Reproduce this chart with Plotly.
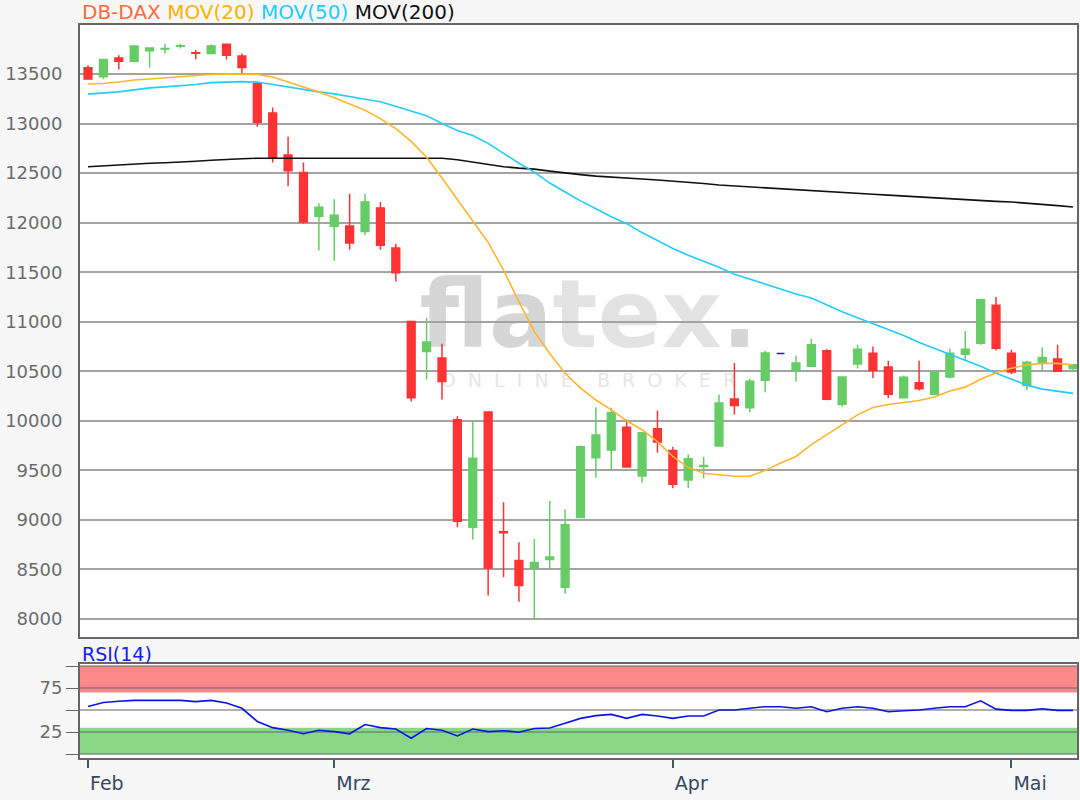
import pandas as pd
import plotly.graph_objects as go

# ---------------- data ----------------
dates = pd.bdate_range("2020-02-07", "2020-05-07").strftime("%Y-%m-%d").tolist()

open_ = [13563, 13473, 13663, 13630, 13735, 13752, 13780, 13716, 13707, 13800,
         13683, 13407, 13107, 12683, 12507, 12065, 11965, 11966, 11912, 12148,
         11744, 11003, 10700, 10633, 10010, 8926, 10088, 8880, 8589, 8515,
         8600, 8319, 9023, 9628, 9705, 9936, 9443, 9919, 9701, 9403,
         9540, 9745, 10221, 10131, 10409, 10680, 10507, 10550, 10707, 10167,
         10573, 10683, 10543, 10233, 10383, 10267, 10443, 10673, 10783, 11167,
         10683, 10357, 10583, 10623, 10527]
high = [13590, 13650, 13690, 13785, 13765, 13807, 13807, 13740, 13800, 13802,
        13707, 13410, 13163, 12867, 12607, 12195, 12235, 12293, 12293, 12209,
        11788, 11013, 11040, 10778, 10047, 10003, 10090, 9178, 8774, 8806,
        9191, 9107, 9752, 10138, 10131, 10013, 9880, 10104, 9738, 9661,
        9634, 10265, 10584, 10423, 10708, 10680, 10660, 10827, 10723, 10445,
        10767, 10750, 10607, 10457, 10607, 10492, 10727, 10907, 11223, 11250,
        10717, 10607, 10743, 10767, 10567]
low = [13445, 13447, 13547, 13628, 13567, 13707, 13757, 13647, 13705, 13647,
       13507, 12967, 12607, 12367, 11990, 11720, 11615, 11727, 11872, 11727,
       11407, 10195, 10418, 10215, 8926, 8801, 8236, 8421, 8175, 8000,
       8503, 8258, 9023, 9426, 9500, 9527, 9376, 9678, 9319, 9319,
       9420, 9745, 10064, 10087, 10289, 10680, 10393, 10550, 10207, 10143,
       10527, 10433, 10227, 10233, 10307, 10267, 10427, 10610, 10767, 10710,
       10473, 10310, 10507, 10493, 10507]
close = [13450, 13647, 13630, 13783, 13763, 13758, 13785, 13710, 13783, 13690,
         13567, 13013, 12657, 12523, 12007, 12155, 12075, 11795, 12209, 11771,
         11495, 10232, 10795, 10397, 8986, 9623, 8515, 8870, 8337, 8570,
         8625, 8950, 9738, 9856, 10081, 9534, 9879, 9785, 9359, 9617,
         9548, 10181, 10154, 10399, 10685, 10680, 10583, 10767, 10217, 10443,
         10723, 10507, 10267, 10440, 10323, 10490, 10683, 10723, 11223, 10733,
         10493, 10590, 10640, 10500, 10567]

mov20 = [13400, 13405, 13420, 13440, 13450, 13463, 13473, 13483, 13495, 13500,
         13500, 13497, 13470, 13420, 13370, 13320, 13260, 13200, 13135, 13050,
         12950, 12820, 12660, 12450, 12230, 12010, 11800, 11520, 11200, 10900,
         10680, 10480, 10330, 10210, 10110, 10000, 9910, 9790, 9640, 9530,
         9470, 9455, 9440, 9440, 9500, 9575, 9640, 9760, 9860, 9960,
         10060, 10135, 10165, 10185, 10205, 10240, 10300, 10340, 10420, 10485,
         10530, 10565, 10580, 10580, 10565]
mov50 = [13297, 13305, 13320, 13340, 13360, 13370, 13380, 13395, 13413, 13420,
         13423, 13420, 13395, 13365, 13345, 13320, 13300, 13270, 13245, 13220,
         13175, 13130, 13080, 13000, 12930, 12880, 12800, 12700, 12600, 12510,
         12400, 12310, 12220, 12140, 12060, 11990, 11900, 11820, 11740, 11670,
         11610, 11550, 11480, 11430, 11380, 11330, 11280, 11240, 11170, 11100,
         11040, 10980, 10920, 10860, 10790, 10730, 10670, 10610, 10550, 10480,
         10420, 10360, 10320, 10295, 10277]
mov200 = [12565, 12575, 12585, 12595, 12600, 12605, 12610, 12620, 12630, 12640,
          12645, 12650, 12650, 12650, 12650, 12650, 12650, 12650, 12650, 12650,
          12650, 12650, 12650, 12650, 12635, 12610, 12590, 12565, 12550, 12540,
          12520, 12500, 12485, 12470, 12458, 12448, 12440, 12430, 12420, 12410,
          12395, 12380, 12370, 12360, 12350, 12340, 12332, 12322, 12312, 12302,
          12295, 12287, 12278, 12268, 12258, 12248, 12238, 12228, 12222, 12215,
          12208, 12198, 12185, 12172, 12158]
rsi = [54, 58.5, 60, 61, 61, 61, 61, 59.5, 61, 58,
       52, 37, 30, 27, 23, 27, 25.5, 23, 33.5, 30,
       28.5, 18, 29, 27, 20.5, 28.5, 25.5, 26.5, 24.7, 29,
       29.5, 35, 40.5, 43.6, 45, 40.5, 45, 43.2, 40.5, 43.2,
       43.2, 50, 50, 52, 53.8, 53.8, 52, 53.8, 48, 52,
       53.8, 52, 48, 49.2, 50, 52, 53.8, 53.8, 60.5, 51,
       49.6, 49.6, 51.5, 49.6, 49.6]

month_ticks = ["2020-02-07", "2020-03-02", "2020-04-01", "2020-05-01"]
month_labels = ["Feb", "Mrz", "Apr", "Mai"]
price_ticks = list(range(8000, 14000, 500))
rsi_ticks = [0, 25, 50, 75, 100]
rsi_labels = ["", "25", "", "75", ""]

# ---------------- styling ----------------
FONT = "DejaVu Sans"
GREEN = "#66cc66"
RED = "#ff3333"
FLAT = "#3311cc"

flat = [o == h == l == c for o, h, l, c in zip(open_, high, low, close)]


def pick(arr, keep):
    return [v if k else None for v, k in zip(arr, keep)]


normal = [not f for f in flat]

fig = go.Figure()

fig.add_trace(go.Candlestick(
    x=dates, open=pick(open_, normal), high=pick(high, normal),
    low=pick(low, normal), close=pick(close, normal),
    increasing=dict(line=dict(color=GREEN, width=1.5), fillcolor=GREEN),
    decreasing=dict(line=dict(color=RED, width=1.5), fillcolor=RED),
    whiskerwidth=0, showlegend=False, hoverinfo="skip",
    xaxis="x", yaxis="y"))
fig.add_trace(go.Candlestick(
    x=dates, open=pick(open_, flat), high=pick(high, flat),
    low=pick(low, flat), close=pick(close, flat),
    increasing=dict(line=dict(color=FLAT, width=1.5), fillcolor=FLAT),
    decreasing=dict(line=dict(color=FLAT, width=1.5), fillcolor=FLAT),
    whiskerwidth=0, showlegend=False, hoverinfo="skip",
    xaxis="x", yaxis="y"))

fig.add_trace(go.Scatter(x=dates, y=mov200, mode="lines",
                         line=dict(color="#111111", width=1.6),
                         showlegend=False, hoverinfo="skip"))
fig.add_trace(go.Scatter(x=dates, y=mov50, mode="lines",
                         line=dict(color="#22ccff", width=1.6),
                         showlegend=False, hoverinfo="skip"))
fig.add_trace(go.Scatter(x=dates, y=mov20, mode="lines",
                         line=dict(color="#ffb52e", width=1.6),
                         showlegend=False, hoverinfo="skip"))

fig.add_trace(go.Scatter(x=dates, y=rsi, mode="lines",
                         line=dict(color="#0a14e6", width=1.6),
                         showlegend=False, hoverinfo="skip",
                         xaxis="x2", yaxis="y2"))

# RSI bands
fig.add_shape(type="rect", xref="x2 domain", yref="y2", x0=0, x1=1, y0=70, y1=100,
              fillcolor="#ff8888", line=dict(width=0), layer="below")
fig.add_shape(type="rect", xref="x2 domain", yref="y2", x0=0, x1=1, y0=0, y1=30,
              fillcolor="#88d888", line=dict(width=0), layer="below")

# watermark
fig.add_shape(type="rect", xref="paper", yref="paper",
              x0=0.32, x1=0.70, y0=0.56, y1=0.67,
              line=dict(width=0), fillcolor="rgba(0,0,0,0)", layer="below",
              label=dict(text=('<b><span style="color:#d6d6d6">fla</span>'
                               '<span style="color:#e3e3e3">tex</span>'
                               '<span style="color:#d6d6d6">.</span></b>'),
                         font=dict(family=FONT, size=94, color="#dedede"),
                         textposition="middle center"))
fig.add_shape(type="rect", xref="paper", yref="paper",
              x0=0.36, x1=0.66, y0=0.50, y1=0.535,
              line=dict(width=0), fillcolor="rgba(0,0,0,0)", layer="below",
              label=dict(text="O\u00a0\u00a0N\u00a0\u00a0L\u00a0\u00a0I\u00a0\u00a0N\u00a0\u00a0E\u00a0\u00a0\u00a0\u00a0B\u00a0\u00a0R\u00a0\u00a0O\u00a0\u00a0K\u00a0\u00a0E\u00a0\u00a0R",
                         font=dict(family=FONT, size=19, color="#e6e6e6"),
                         textposition="middle center"))

# titles
fig.add_annotation(
    xref="paper", yref="paper", x=0, y=1.0177, xanchor="left", yanchor="middle",
    showarrow=False,
    text=('<span style="color:#ff6a3d">DB-DAX</span> '
          '<span style="color:#ffb000">MOV(20)</span> '
          '<span style="color:#22ccff">MOV(50)</span> '
          '<span style="color:#111111">MOV(200)</span>'),
    font=dict(family=FONT, size=20))
fig.add_annotation(
    xref="paper", yref="paper", x=0, y=0.1419, xanchor="left", yanchor="middle",
    showarrow=False, text="RSI(14)", font=dict(family=FONT, size=19, color="#1020ff"))

xr = [-0.52, 64.26]
fig.update_layout(
    width=1080, height=800,
    margin=dict(l=80, r=3, t=25, b=42, autoexpand=False),
    paper_bgcolor="#f7f7f7", plot_bgcolor="#ffffff",
    font=dict(family=FONT, size=18, color="#666666"),
    boxgap=0.28,
    xaxis=dict(domain=[0, 1], anchor="y", type="category", range=xr,
               rangeslider=dict(visible=False), showticklabels=False,
               showgrid=False, showline=True, mirror=True, linecolor="#666666",
               linewidth=2, ticks="", zeroline=False, automargin=False),
    yaxis=dict(domain=[0.16508, 1], anchor="x", range=[7818, 13995],
               tickvals=price_ticks, tickformat="d",
               showgrid=True, gridcolor="#a3a3a3", gridwidth=1.5,
               showline=True, mirror=True, linecolor="#666666", linewidth=2,
               ticks="outside", ticklen=12, tickcolor="rgba(0,0,0,0)",
               tickfont=dict(family=FONT, size=18, color="#6b6b6b"),
               zeroline=False, automargin=False),
    xaxis2=dict(domain=[0, 1], anchor="y2", type="category", range=xr,
                matches="x", tickvals=month_ticks, ticktext=month_labels,
                ticklabelposition="outside right", ticklabelstandoff=7,
                ticks="outside", ticklen=8, tickwidth=2, tickcolor="#445566",
                tickfont=dict(family=FONT, size=19, color="#34495e"),
                showgrid=False, showline=True, mirror=True, linecolor="#666666",
                linewidth=2, zeroline=False, automargin=False),
    yaxis2=dict(domain=[0, 0.12824], anchor="x2", range=[-4.5, 102.3],
                tickvals=rsi_ticks, ticktext=rsi_labels,
                showgrid=True, gridcolor="rgba(110,110,110,0.55)", gridwidth=1.5,
                showline=True, mirror=True, linecolor="#666666", linewidth=2,
                ticks="outside", ticklen=12, tickcolor="#666666",
                tickfont=dict(family=FONT, size=18, color="#6b6b6b"),
                zeroline=False, automargin=False),
)

fig.write_html("out.html",
               config={"displayModeBar": False},
               post_script="document.body.style.margin='0px';document.body.style.padding='0px';")
